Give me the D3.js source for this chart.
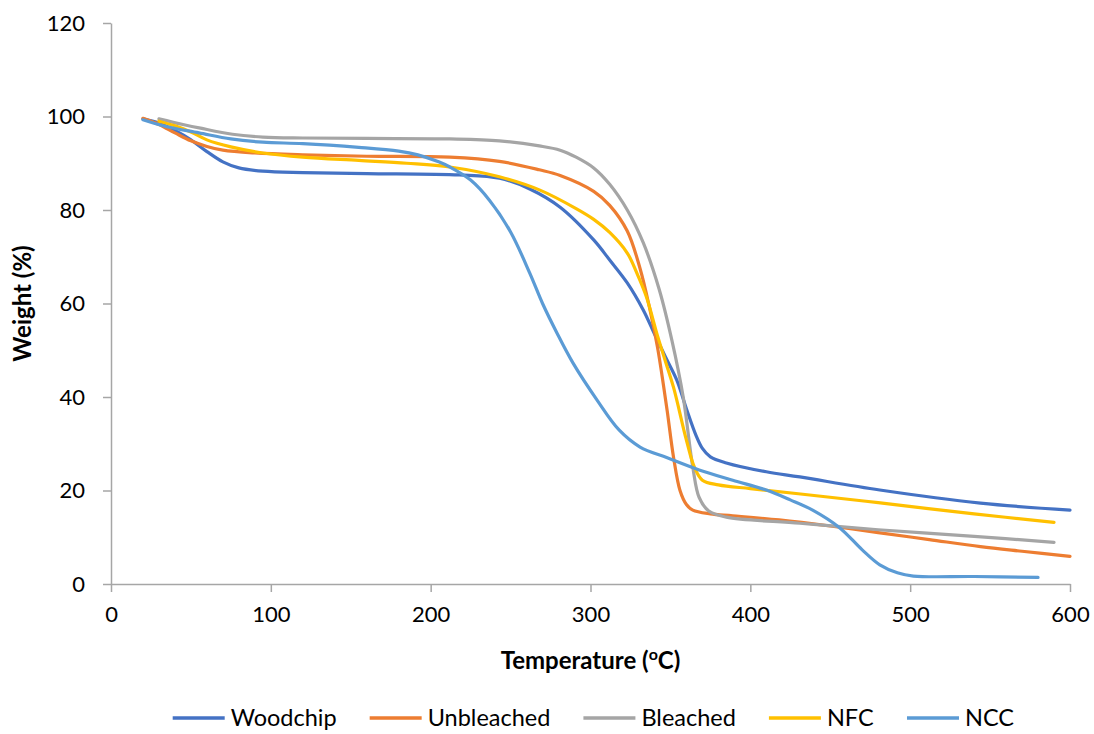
<!DOCTYPE html>
<html>
<head>
<meta charset="utf-8">
<script src="https://cdn.jsdelivr.net/npm/d3@7"></script>
<style>
  body { margin: 0; background: #fff; }
  svg text { font-family: Lato, "Noto Sans", sans-serif; fill: #000; }
  .axis path, .axis line { stroke: #a6a6a6; stroke-width: 1.5; }
  .axis text { font-size: 22px; }
</style>
</head>
<body>
<svg id="chart" width="1094" height="734"></svg>
<script>
// series names and colours (legend order)
const seriesNames = ["Woodchip", "Unbleached", "Bleached", "NFC", "NCC"];
const seriesColors = ["#4472C4", "#ED7D31", "#A5A5A5", "#FFC000", "#5B9BD5"];

// [temperature °C, weight %]
const woodchip = [[20,99.5],[30,98.6],[40,97],[50,95],[60,92.5],[70,90.3],[80,89],[95,88.3],[120,88],[160,87.8],
  [218,87.5],[243,86.8],[262,84.5],[281,80.6],[302,73.6],[312,69.3],[323,64.4],[333,58.6],[340,53.5],[347,48.5],
  [354,43.6],[360,37.5],[366,31.8],[370,29],[375,27.2],[385,25.9],[410,24],[431,22.9],[481,20.1],[544,17.3],[600,15.8]];

const unbleached = [[20,99.6],[30,98.3],[40,96.5],[50,94.8],[60,93.6],[70,92.8],[90,92.2],[120,91.8],[160,91.5],
  [212,91.3],[243,90.4],[268,88.6],[281,87.4],[302,84],[312,81],[323,75.5],[331,67.5],[337,59],[342,50.5],
  [345,44],[348,37],[352,27],[356,20],[360,17],[364,15.8],[375,15],[389,14.6],[418,13.7],[450,12.4],[480,11],
  [512,9.5],[544,8],[570,7],[600,5.9]];

const bleached = [[30,99.5],[45,98.3],[56,97.5],[76,96.2],[95,95.6],[120,95.4],[160,95.3],[212,95.2],[243,94.8],
  [268,93.7],[281,92.8],[291,91.3],[302,89],[312,85.5],[323,80],[333,73],[343,63],[351,52],[358,40],[364,25],
  [368,18.5],[374,15.6],[385,14.3],[431,13],[480,11.6],[540,10.2],[590,8.9]];

const nfc = [[30,99],[40,98],[50,96.7],[60,95],[75,93.5],[95,92.2],[120,91.3],[155,90.6],[185,90],[212,89.2],
  [243,87.1],[268,84.3],[291,80.3],[302,78],[312,75.2],[323,70.8],[329,66.5],[335,61.4],[342,53],[347,47.5],
  [352,42],[360,30.8],[365,25],[370,22.2],[380,21.2],[400,20.4],[430,19.3],[480,17.4],[540,15],[590,13.2]];

const ncc = [[20,99.3],[35,97.8],[55,96.5],[75,95.2],[95,94.5],[120,94.2],[155,93.4],[180,92.6],[192,91.8],
  [205,90.3],[212,89.2],[225,86.4],[237,82],[250,75.3],[262,66.5],[270,60],[279,53.7],[289,47.3],[304,39.4],
  [318,32.9],[331,29.3],[348,27],[368,24.4],[389,22.2],[410,20.1],[425,18],[439,15.8],[456,12],[470,7.3],
  [481,4.1],[492,2.4],[502,1.7],[540,1.6],[580,1.4]];

const allSeries = [woodchip, unbleached, bleached, nfc, ncc];

const xTicks = [0, 100, 200, 300, 400, 500, 600];
const yTicks = [0, 20, 40, 60, 80, 100, 120];

const svg = d3.select("#chart");
const plot = { left: 111, right: 1070, top: 23, bottom: 584 };

const x = d3.scaleLinear().domain([0, 600]).range([plot.left, plot.right]);
const y = d3.scaleLinear().domain([0, 120]).range([plot.bottom, plot.top]);

// axes
svg.append("g")
    .attr("class", "axis")
    .attr("transform", "translate(0," + plot.bottom + ")")
    .call(d3.axisBottom(x).tickValues(xTicks).tickSize(8).tickSizeOuter(0).tickPadding(14));

svg.append("g")
    .attr("class", "axis")
    .attr("transform", "translate(" + plot.left + ",0)")
    .call(d3.axisLeft(y).tickValues(yTicks).tickSize(8).tickSizeOuter(0).tickPadding(18));

// curves
const line = d3.line()
    .x(d => x(d[0]))
    .y(d => y(d[1]))
    .curve(d3.curveCatmullRom.alpha(0.5));

svg.append("g").selectAll("path")
    .data(allSeries)
    .enter()
    .append("path")
    .attr("d", line)
    .attr("fill", "none")
    .attr("stroke", (d, i) => seriesColors[i])
    .attr("stroke-width", 3.2)
    .attr("stroke-linecap", "round")
    .attr("stroke-linejoin", "round");

// axis titles
const xTitle = svg.append("text")
    .attr("x", (plot.left + plot.right) / 2)
    .attr("y", 669)
    .attr("text-anchor", "middle")
    .style("font-size", "24px")
    .style("font-weight", "bold")
    .text("Temperature (");
xTitle.append("tspan").attr("dy", -9).style("font-size", "16px").text("o");
xTitle.append("tspan").attr("dy", 9).text("C)");

svg.append("text")
    .attr("transform", "translate(31," + ((plot.top + plot.bottom) / 2) + ") rotate(-90)")
    .attr("text-anchor", "middle")
    .style("font-size", "24px")
    .style("font-weight", "bold")
    .text("Weight (%)");

// legend
const legend = svg.append("g");
const items = legend.selectAll("g")
    .data(seriesNames)
    .enter()
    .append("g");

items.append("line")
    .attr("x1", 0).attr("x2", 52)
    .attr("y1", 0).attr("y2", 0)
    .attr("stroke", (d, i) => seriesColors[i])
    .attr("stroke-width", 3.5);

items.append("text")
    .attr("x", 58)
    .attr("y", 8)
    .style("font-size", "23.5px")
    .text(d => d);

let pos = 0;
const gap = 33;
items.each(function() {
    const w = this.getBBox().width;
    d3.select(this).attr("transform", "translate(" + pos + ",0)");
    pos += w + gap;
});
const total = pos - gap;
legend.attr("transform", "translate(" + ((plot.left + plot.right) / 2 + 3 - total / 2) + ",718)");
</script>
</body>
</html>
